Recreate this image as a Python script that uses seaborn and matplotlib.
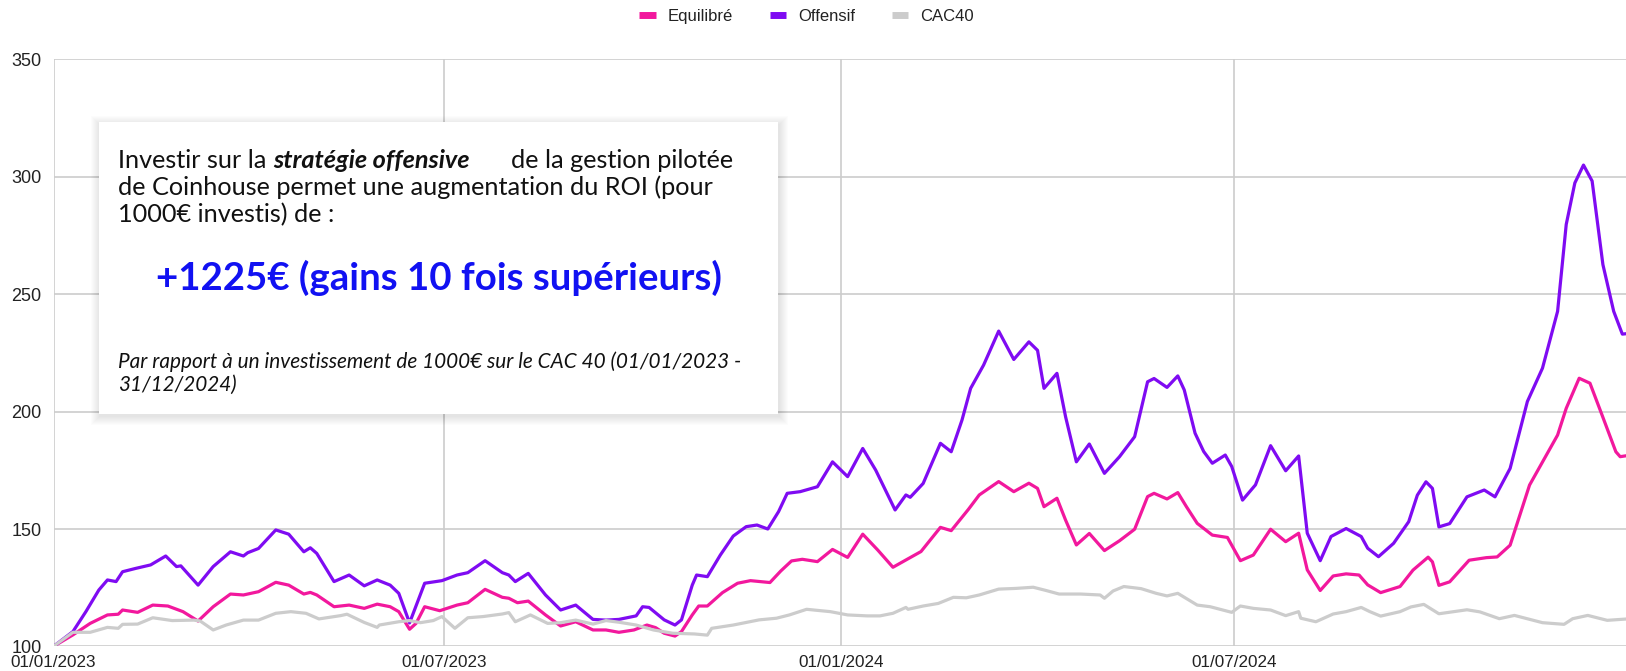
import numpy as np
import pandas as pd
import matplotlib
matplotlib.use("Agg")
import matplotlib.pyplot as plt
import matplotlib.dates as mdates
from matplotlib.lines import Line2D
from matplotlib.patches import Rectangle
import seaborn as sns

# valeurs (base 100), jours comptés depuis le 01/01/2023
start = "2023-01-01"

off_days = [0, 9, 15, 21, 25, 29, 32, 38, 45, 52,
            57, 59, 67, 74, 82, 88, 90, 95, 103, 109,
            116, 119, 122, 130, 137, 144, 150, 156, 160, 165,
            172, 180, 187, 192, 200, 208, 211, 214, 220, 228,
            235, 242, 250, 256, 262, 270, 273, 276, 283, 288,
            291, 296, 298, 303, 309, 315, 321, 326, 331, 336,
            340, 346, 354, 361, 368, 375, 381, 390, 395, 397,
            403, 411, 416, 421, 425, 431, 438, 445, 452, 456,
            459, 465, 469, 474, 480, 487, 494, 501, 507, 510,
            516, 521, 524, 529, 533, 537, 543, 546, 551, 557,
            564, 571, 577, 581, 587, 592, 599, 606, 609, 614,
            621, 628, 632, 636, 639, 642, 647, 655, 663, 668,
            675, 683, 690, 697, 701, 705, 709, 713, 718, 723,
            727, 731]
off_vals = [100, 106.3, 114.8, 124, 128.3, 127.6, 131.8, 133.2, 134.7, 138.5,
            134, 134.3, 126.1, 134, 140.3, 138.5, 139.9, 141.7, 149.6, 147.8,
            140.3, 142, 139.6, 127.6, 130.4, 125.8, 128.3, 126.1, 122.6, 110,
            126.9, 128, 130.4, 131.4, 136.5, 131.4, 130.4, 127.6, 131.1, 121.9,
            115.5, 117.6, 111.5, 111.2, 111.5, 113, 116.9, 116.6, 111.3, 109.1,
            111.3, 126.1, 130.4, 129.7, 138.9, 147, 151, 151.7, 150, 157.4,
            165.2, 165.9, 168, 178.6, 172.3, 184.3, 175.1, 158.1, 164.5, 163.5,
            169.4, 186.5, 182.9, 196.4, 209.9, 219.8, 234.3, 222.2, 229.7, 226.1,
            209.9, 216.3, 197.8, 178.6, 186.2, 173.7, 180.8, 189.3, 212.7, 214.1,
            210.3, 215.2, 209.2, 190.8, 183, 178, 181.5, 176.6, 162.3, 168.8,
            185.5, 174.8, 181.1, 148.2, 136.5, 146.8, 150.2, 146.8, 141.8, 138.2,
            143.9, 153.1, 164.4, 170.1, 167.3, 150.9, 152.3, 163.7, 166.6, 163.7,
            175.8, 204.3, 218.5, 242.7, 279.7, 297.4, 305, 298.2, 262.6, 242.7,
            233, 233.4]

equ_days = [0, 9, 17, 25, 30, 32, 39, 46, 53, 60,
            67, 74, 82, 88, 95, 103, 109, 116, 119, 122,
            130, 137, 144, 150, 156, 160, 165, 168, 172, 179,
            187, 192, 200, 208, 211, 215, 220, 228, 235, 242,
            250, 256, 262, 269, 275, 279, 283, 288, 291, 296,
            299, 303, 310, 317, 323, 332, 337, 342, 347, 354,
            361, 368, 375, 382, 389, 395, 402, 411, 416, 424,
            429, 438, 445, 452, 456, 459, 465, 469, 474, 480,
            487, 494, 501, 507, 510, 516, 521, 525, 530, 537,
            544, 550, 556, 564, 571, 577, 581, 587, 593, 599,
            605, 609, 615, 624, 630, 637, 639, 642, 647, 656,
            664, 669, 675, 684, 697, 701, 707, 712, 717, 724,
            726, 731]
equ_vals = [100, 104.9, 109.8, 113.4, 113.7, 115.5, 114.5, 117.6, 117.2, 114.8,
            110.8, 116.9, 122.3, 121.9, 123.3, 127.3, 126.1, 122.3, 123, 121.9,
            116.9, 117.6, 116.2, 118, 116.9, 114.8, 107.3, 109.8, 116.9, 115.2,
            117.6, 118.6, 124.3, 120.9, 120.5, 118.6, 119.3, 113.4, 108.7, 110.5,
            107, 107, 106, 107, 109.1, 108, 105.6, 104.4, 106.3, 113.4,
            117.2, 117.2, 122.9, 126.9, 128, 127.2, 132.1, 136.4, 137.1, 136.1,
            141.3, 137.9, 147.8, 141, 133.7, 136.8, 140.4, 150.7, 149.3, 158.4,
            164.5, 170.2, 165.9, 169.5, 167.3, 159.5, 163.1, 153.8, 143.2, 148.1,
            140.8, 145, 149.9, 163.8, 165.2, 162.8, 165.5, 159.5, 152.4, 147.4,
            146.4, 136.5, 138.9, 149.9, 144.6, 148.2, 132.6, 123.8, 130, 130.9,
            130.4, 126.2, 122.9, 125.5, 132.5, 138, 136, 126, 127.5, 136.7,
            137.8, 138.1, 143.1, 168.7, 190, 201.4, 214.2, 212.1, 200, 182.9,
            180.8, 181.5]

cac_days = [0, 9, 17, 25, 30, 32, 39, 46, 55, 65,
            68, 74, 80, 88, 95, 103, 110, 117, 123, 133,
            136, 144, 150, 151, 160, 165, 170, 176, 180, 186,
            192, 199, 208, 211, 214, 221, 229, 235, 242, 250,
            256, 262, 270, 278, 287, 297, 303, 305, 315, 327,
            335, 341, 349, 360, 368, 377, 383, 389, 395, 396,
            403, 410, 417, 423, 429, 438, 446, 454, 460, 466,
            476, 485, 487, 491, 496, 504, 511, 516, 521, 530,
            536, 546, 550, 556, 564, 571, 577, 578, 585, 593,
            599, 606, 610, 615, 624, 629, 635, 642, 655, 661,
            670, 677, 690, 700, 704, 711, 720, 731]
cac_vals = [100, 106, 106, 108.1, 107.7, 109.4, 109.5, 112.2, 111, 111.2,
            110.8, 107, 109.1, 111.2, 111.2, 114.1, 114.8, 114.1, 111.7, 113.1,
            113.7, 110.2, 108.1, 109.1, 110.5, 111, 110.1, 111, 112.7, 107.7,
            112.2, 112.7, 113.8, 114.4, 110.5, 113.4, 109.8, 110.1, 111.2, 109.5,
            111, 110.3, 109.1, 107, 105.6, 105.3, 104.8, 107.7, 109.1, 111.3,
            112, 113.4, 115.8, 114.8, 113.4, 113, 113, 114.1, 116.6, 115.8,
            117.2, 118.3, 120.9, 120.7, 121.9, 124.4, 124.7, 125.2, 123.8, 122.3,
            122.3, 121.9, 120.5, 123.6, 125.5, 124.6, 122.6, 121.5, 122.6, 117.6,
            116.9, 114.5, 117.2, 116.2, 115.5, 113.1, 114.8, 112, 110.5, 113.8,
            114.8, 116.6, 114.8, 112.9, 114.8, 116.8, 117.9, 113.9, 115.6, 114.7,
            111.8, 113.2, 110.1, 109.4, 111.8, 113.2, 111.1, 111.8]

series = ["Equilibré", "Offensif", "CAC40"]
colors = ["#F2189D", "#7F0BF2", "#CCCCCC"]
x_ticks = ["2023-01-01", "2023-07-01", "2024-01-01", "2024-07-01"]
y_ticks = [100, 150, 200, 250, 300, 350]


def to_frame(days, vals, name):
    return pd.DataFrame({"date": pd.Timestamp(start) + pd.to_timedelta(days, unit="D"),
                         "valeur": vals, "serie": name})


df = pd.concat([to_frame(equ_days, equ_vals, "Equilibré"),
                to_frame(off_days, off_vals, "Offensif"),
                to_frame(cac_days, cac_vals, "CAC40")], ignore_index=True)

sns.set_theme(style="white")
plt.rcParams["font.family"] = ["Liberation Sans", "DejaVu Sans"]

W, H = 1626, 671
fig = plt.figure(figsize=(W / 100, H / 100), dpi=100)
ax = fig.add_axes([53.5 / W, 1 - 646.4 / H, 1 - 53.5 / W, (646.4 - 59.4) / H])

sns.lineplot(data=df, x="date", y="valeur", hue="serie", hue_order=series,
             palette=colors, estimator=None, linewidth=2.3, legend=False, ax=ax)
for line in ax.lines:
    line.set_solid_joinstyle("round")
    line.set_solid_capstyle("round")

ax.set_ylim(100, 350)
ax.set_xlim(pd.Timestamp(start), pd.Timestamp(start) + pd.Timedelta(days=728.7))
ax.set_yticks(y_ticks)
ax.set_xticks(pd.to_datetime(x_ticks))
ax.xaxis.set_major_formatter(mdates.DateFormatter("%d/%m/%Y"))
ax.set_xlabel("")
ax.set_ylabel("")
ax.grid(True, color="#CCCCCC", linewidth=1.2)
ax.set_axisbelow(True)
for s in ax.spines.values():
    s.set_visible(False)
ax.tick_params(axis="both", length=0, labelcolor="#222222")
ax.tick_params(axis="y", pad=8.5, labelsize=13)
ax.tick_params(axis="x", pad=6, labelsize=12.3)

# légende en haut
handles = [Line2D([], [], color=c, lw=5, solid_capstyle="butt") for c in colors]
fig.legend(handles, series, loc="center", bbox_to_anchor=(0.496, 0.976), ncol=3,
           frameon=False, handlelength=1.0, handletextpad=0.7, columnspacing=2.2,
           prop={"family": "Liberation Sans", "size": 12}, labelcolor="#222222")


# encadré de texte
def fx(px):
    return px / W


def fy(py):
    return 1 - py / H


x0, y0, x1, y1 = 99, 122, 778, 414
for i in range(9, 0, -1):
    fig.add_artist(Rectangle((fx(x0 - i + 1), fy(y1 + i + 2)), (x1 - x0 + 2 * i) / W,
                             (y1 - y0 + 2 * i - 1) / H, transform=fig.transFigure,
                             facecolor="black", edgecolor="none", alpha=0.012, zorder=4))
fig.add_artist(Rectangle((fx(x0), fy(y1)), (x1 - x0) / W, (y1 - y0) / H,
                         transform=fig.transFigure, facecolor="white",
                         edgecolor="none", zorder=5))

r = fig.canvas.get_renderer()


def width(t):
    return t.get_window_extent(r).width


def fit(t, target):
    t.set_fontsize(t.get_fontsize() * target / width(t))


box_font = ["Lato", "DejaVu Sans"]
body = dict(family=box_font, color="#111111", va="center", ha="left", zorder=6)

l2 = fig.text(fx(118), fy(187), "de Coinhouse permet une augmentation du ROI (pour",
              fontsize=16, **body)
fit(l2, 598)
fs = l2.get_fontsize()
fig.text(fx(118), fy(215), "1000€ investis) de :", fontsize=fs, **body)

# largeur d'une espace dans cette police
tmp1 = fig.text(0, 0, "a a", fontsize=fs, **body)
tmp2 = fig.text(0, 0, "aa", fontsize=fs, **body)
sp = width(tmp1) - width(tmp2)
tmp1.remove()
tmp2.remove()

a = fig.text(fx(118), fy(160), "Investir sur la", fontsize=fs, **body)
x = 118 + width(a) + sp
b = fig.text(fx(x), fy(160), "stratégie offensive", fontsize=fs,
             weight="bold", style="italic", **body)
x = max(x + width(b) + 3 * sp, 511)
fig.text(fx(x), fy(160), "de la gestion pilotée", fontsize=fs, **body)

big = fig.text(fx((x0 + x1) / 2), fy(278), "+1225€ (gains 10 fois supérieurs)",
               fontsize=24, family=box_font, weight="bold", color="#1111F2",
               ha="center", va="center", zorder=6)
fit(big, 566)

it1 = fig.text(fx(118), fy(362),
               "Par rapport à un investissement de 1000€ sur le CAC 40 (01/01/2023 -",
               fontsize=12, style="italic", **body)
fit(it1, 623)
fig.text(fx(118), fy(385), "31/12/2024)", fontsize=it1.get_fontsize(),
         style="italic", **body)

fig.savefig("out.png", dpi=100, facecolor="white")
